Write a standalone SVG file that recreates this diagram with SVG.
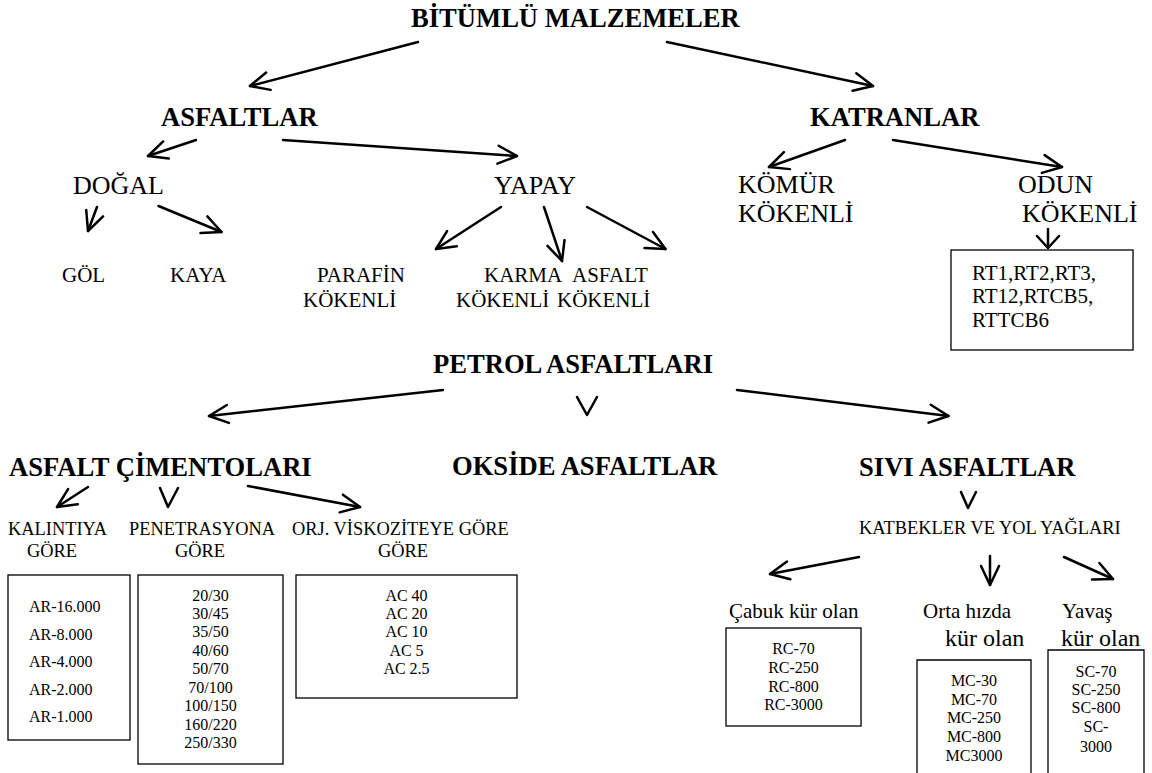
<svg xmlns="http://www.w3.org/2000/svg" width="1152" height="773" viewBox="0 0 1152 773">
<style>
text{font-family:"Liberation Serif","Times New Roman",serif;fill:#000}
.h{font-weight:bold;font-size:26.6px}
.m{font-size:26px}
.s{font-size:21px}
.t{font-size:18.4px}
.b{font-size:16px}
.c{text-anchor:middle}
.box{fill:none;stroke:#000;stroke-width:1.3}
.ln{fill:none;stroke:#000;stroke-width:2.5;stroke-linecap:round;stroke-linejoin:round}
.ar{marker-end:url(#ah)}
</style>
<defs>
<marker id="ah" markerUnits="userSpaceOnUse" markerWidth="24" markerHeight="24" refX="20" refY="12" orient="auto" overflow="visible">
<path d="M1,3 L20,12 L1,21" fill="none" stroke="#000" stroke-width="2.5" stroke-linecap="round" stroke-linejoin="round"/>
</marker>
</defs>
<rect width="1152" height="773" fill="#fff"/>

<g id="connectors">
<line class="ln ar" x1="418" y1="42" x2="250" y2="86"/>
<line class="ln ar" x1="667" y1="42" x2="873" y2="86"/>
<line class="ln ar" x1="196" y1="140" x2="148" y2="156"/>
<line class="ln ar" x1="283" y1="140" x2="517" y2="156"/>
<line class="ln ar" x1="845" y1="140" x2="769" y2="167"/>
<line class="ln ar" x1="893" y1="140" x2="1062" y2="167"/>
<line class="ln ar" x1="97" y1="207" x2="88" y2="231"/>
<line class="ln ar" x1="158.5" y1="206" x2="221.5" y2="232"/>
<line class="ln ar" x1="501" y1="207" x2="436" y2="249"/>
<line class="ln ar" x1="544" y1="207" x2="562" y2="261"/>
<line class="ln ar" x1="587" y1="207" x2="665.5" y2="249"/>
<path class="ln" d="M1048,229 L1048,248 M1037,236 L1048,248 L1059,236"/>
<line class="ln ar" x1="443" y1="390" x2="209" y2="416"/>
<path class="ln" d="M577,397 L587,415 L597,397"/>
<line class="ln ar" x1="737" y1="390" x2="948.5" y2="416"/>
<line class="ln ar" x1="88" y1="487" x2="57" y2="507"/>
<path class="ln" d="M160,488 L168,507 L178,488"/>
<line class="ln ar" x1="248" y1="486" x2="360" y2="507"/>
<path class="ln" d="M961,492 L968,508 L976,492"/>
<line class="ln ar" x1="859" y1="557" x2="770" y2="574"/>
<line class="ln ar" x1="990" y1="556" x2="990" y2="585"/>
<line class="ln ar" x1="1064" y1="557" x2="1113" y2="579"/>
</g>

<g id="bitumlu"><text class="h" x="411" y="27">BİTÜMLÜ MALZEMELER</text></g>
<g id="asfaltlar"><text class="h" x="161" y="126">ASFALTLAR</text></g>
<g id="katranlar"><text class="h" x="810" y="126">KATRANLAR</text></g>
<g id="dogal"><text class="m" x="73" y="194">DOĞAL</text></g>
<g id="yapay"><text class="m" x="494" y="194">YAPAY</text></g>
<g id="komur"><text class="m" x="738" y="193">KÖMÜR</text><text class="m" x="738" y="222">KÖKENLİ</text></g>
<g id="odun"><text class="m" x="1018" y="193">ODUN</text><text class="m" x="1022" y="222">KÖKENLİ</text></g>
<g id="gol"><text class="s" x="62" y="282">GÖL</text></g>
<g id="kaya"><text class="s" x="170" y="282">KAYA</text></g>
<g id="parafin"><text class="s" x="317" y="282">PARAFİN</text><text class="s" x="303" y="307">KÖKENLİ</text></g>
<g id="karma"><text class="s" x="484" y="282">KARMA</text><text class="s" x="456" y="307">KÖKENLİ</text></g>
<g id="asfaltkokenli"><text class="s" x="572" y="282">ASFALT</text><text class="s" x="557" y="307">KÖKENLİ</text></g>
<g id="rtbox">
<rect class="box" x="951" y="250" width="182" height="100"/>
<text class="s" x="972" y="280">RT1,RT2,RT3,</text>
<text class="s" x="972" y="303">RT12,RTCB5,</text>
<text class="s" x="972" y="327">RTTCB6</text>
</g>
<g id="petrol"><text class="h" x="433" y="373">PETROL ASFALTLARI</text></g>
<g id="cimento"><text class="h" x="9" y="476">ASFALT ÇİMENTOLARI</text></g>
<g id="okside"><text class="h" x="452" y="475">OKSİDE ASFALTLAR</text></g>
<g id="sivi"><text class="h" x="859" y="476">SIVI ASFALTLAR</text></g>
<g id="kalintiya"><text class="t" x="8" y="535">KALINTIYA</text><text class="t" x="27" y="557">GÖRE</text></g>
<g id="penetrasyon"><text class="t" x="129" y="535">PENETRASYONA</text><text class="t" x="175" y="557">GÖRE</text></g>
<g id="viskozite"><text class="t" x="292" y="535">ORJ. VİSKOZİTEYE GÖRE</text><text class="t" x="378" y="557">GÖRE</text></g>
<g id="katbek"><text class="t" x="859" y="534">KATBEKLER VE YOL YAĞLARI</text></g>

<g id="arbox">
<rect class="box" x="8" y="575" width="122" height="165"/>
<text class="b" x="29" y="612">AR-16.000</text>
<text class="b" x="29" y="640">AR-8.000</text>
<text class="b" x="29" y="667">AR-4.000</text>
<text class="b" x="29" y="695">AR-2.000</text>
<text class="b" x="29" y="722">AR-1.000</text>
</g>
<g id="penbox">
<rect class="box" x="138" y="575" width="145" height="189"/>
<text class="b c" x="210.5" y="600.5">20/30</text>
<text class="b c" x="210.5" y="619">30/45</text>
<text class="b c" x="210.5" y="637.4">35/50</text>
<text class="b c" x="210.5" y="655.8">40/60</text>
<text class="b c" x="210.5" y="674.3">50/70</text>
<text class="b c" x="210.5" y="692.7">70/100</text>
<text class="b c" x="210.5" y="711.1">100/150</text>
<text class="b c" x="210.5" y="729.6">160/220</text>
<text class="b c" x="210.5" y="748">250/330</text>
</g>
<g id="acbox">
<rect class="box" x="296" y="575" width="221" height="123"/>
<text class="b c" x="406.5" y="600.5">AC 40</text>
<text class="b c" x="406.5" y="619">AC 20</text>
<text class="b c" x="406.5" y="637.4">AC 10</text>
<text class="b c" x="406.5" y="655.8">AC 5</text>
<text class="b c" x="406.5" y="674.3">AC 2.5</text>
</g>

<g id="rc">
<text class="s" x="729" y="618">Çabuk kür olan</text>
<rect class="box" x="726" y="628" width="135" height="98"/>
<text class="b c" x="793.5" y="654">RC-70</text>
<text class="b c" x="793.5" y="673">RC-250</text>
<text class="b c" x="793.5" y="692">RC-800</text>
<text class="b c" x="793.5" y="710">RC-3000</text>
</g>
<g id="mc">
<text class="s" x="923" y="618">Orta hızda</text>
<text x="945" y="646" style="font-size:24px">kür olan</text>
<path class="box" d="M917,776 V660 H1031 V776"/>
<text class="b c" x="974" y="686">MC-30</text>
<text class="b c" x="974" y="705">MC-70</text>
<text class="b c" x="974" y="723">MC-250</text>
<text class="b c" x="974" y="742">MC-800</text>
<text class="b c" x="974" y="760.7">MC3000</text>
</g>
<g id="sc">
<text class="s" x="1062" y="618">Yavaş</text>
<text x="1061" y="646" style="font-size:24px">kür olan</text>
<path class="box" d="M1048,776 V650 H1144 V776"/>
<text class="b c" x="1096" y="676.7">SC-70</text>
<text class="b c" x="1096" y="695">SC-250</text>
<text class="b c" x="1096" y="713">SC-800</text>
<text class="b c" x="1096" y="731.7">SC-</text>
<text class="b c" x="1096" y="751.7">3000</text>
</g>
</svg>
